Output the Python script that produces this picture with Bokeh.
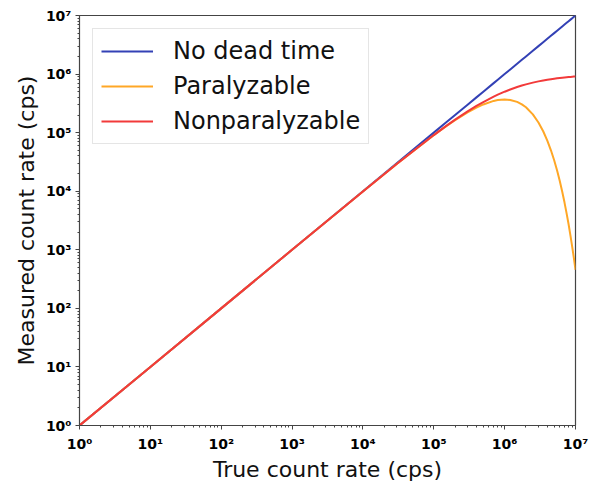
from bokeh.plotting import figure
from bokeh.models import FixedTicker, Legend, LegendItem, Range1d
from bokeh.embed import file_html
from bokeh.resources import INLINE

# True count rate (cps)
true_rate = [1, 10, 100, 1000, 1e4, 3e4, 1e5, 1.5e5, 2e5, 3e5, 4e5, 5e5, 7e5, 8e5,
             1e6, 1.2e6, 1.5e6, 1.75e6, 2e6, 2.5e6, 3e6, 3.5e6, 4e6, 4.5e6, 5e6,
             5.5e6, 6e6, 6.5e6, 7e6, 7.5e6, 8e6, 8.5e6, 9e6, 9.5e6, 1e7]
# Measured rates
no_dead_time = [1, 10, 100, 1000, 1e4, 3e4, 1e5, 1.5e5, 2e5, 3e5, 4e5, 5e5, 7e5, 8e5,
                1e6, 1.2e6, 1.5e6, 1.75e6, 2e6, 2.5e6, 3e6, 3.5e6, 4e6, 4.5e6, 5e6,
                5.5e6, 6e6, 6.5e6, 7e6, 7.5e6, 8e6, 8.5e6, 9e6, 9.5e6, 1e7]
paralyzable = [1, 10, 100, 1000, 9900, 29100, 90500, 129100, 164000, 222000,
               268100, 303000, 348000, 359500, 368000, 361400, 335000, 304100,
               271000, 205200, 149000, 105700, 73000, 50000, 33700, 22500, 14900,
               9770, 6400, 4150, 2700, 1730, 1110, 711, 454]
nonparalyzable = [1, 10, 100, 1000, 9900, 29100, 90900, 130400, 167000, 231000,
                  285700, 333000, 412000, 444400, 500000, 545500, 600000, 636400,
                  667000, 714300, 750000, 777800, 800000, 818200, 833000, 846200,
                  857000, 866700, 875000, 882400, 889000, 894700, 900000, 904800,
                  909000]

decades = [1, 10, 100, 1000, 10000, 100000, 1000000, 10000000]
decade_labels = ["10⁰", "10¹", "10²", "10³", "10⁴", "10⁵", "10⁶", "10⁷"]
series_names = ["No dead time", "Paralyzable", "Nonparalyzable"]
series_colors = ["#3341b5", "#ffa726", "#f23a3a"]

p = figure(width=591, height=484, x_axis_type="log", y_axis_type="log",
           output_backend="svg", toolbar_location=None,
           x_range=Range1d(1, 1e7), y_range=Range1d(1, 1e7),
           min_border_left=79, min_border_right=16, min_border_top=15,
           min_border_bottom=50)
p.background_fill_color = "white"
p.border_fill_color = "white"
p.outline_line_color = "#444444"
p.outline_line_width = 1.2
p.grid.visible = False

minor = []
for d in decades[:-1]:
    for m in range(2, 10):
        minor.append(d * m)
ticker = FixedTicker(ticks=decades, minor_ticks=minor)

for ax in (p.xaxis[0], p.yaxis[0]):
    ax.ticker = ticker
    ax.major_label_overrides = {d: lab for d, lab in zip(decades, decade_labels)}
    ax.major_label_text_font = "DejaVu Sans"
    ax.major_label_text_font_style = "bold"
    ax.major_label_text_font_size = "14px"
    ax.major_label_text_color = "black"
    ax.axis_label_text_font = "DejaVu Sans"
    ax.axis_label_text_font_style = "normal"
    ax.axis_label_text_font_size = "22px"
    ax.axis_label_text_color = "#111111"
    ax.axis_line_color = "#444444"
    ax.major_tick_line_color = "#444444"
    ax.minor_tick_line_color = "#444444"
    ax.major_tick_out = 4
    ax.major_tick_in = 0
    ax.minor_tick_out = 2
    ax.minor_tick_in = 0

p.xaxis.axis_label = "True count rate (cps)"
p.yaxis.axis_label = "Measured count rate (cps)"
p.xaxis.axis_label_standoff = 2
p.yaxis.axis_label_standoff = 4
p.yaxis.major_label_standoff = 4
p.xaxis.major_label_standoff = 6

renderers = []
for ys, c in zip([no_dead_time, paralyzable, nonparalyzable], series_colors):
    r = p.line(true_rate, ys, line_color=c, line_width=2)
    renderers.append(r)

legend = Legend(items=[LegendItem(label=n, renderers=[r]) for n, r in zip(series_names, renderers)],
                location="top_left")
legend.label_text_font = "DejaVu Sans"
legend.label_text_font_size = "24px"
legend.label_text_color = "#111111"
legend.glyph_width = 52
legend.glyph_height = 26
legend.label_standoff = 20
legend.spacing = 7
legend.padding = 8
legend.margin = 13
legend.border_line_color = "#cccccc"
legend.border_line_width = 1
legend.background_fill_alpha = 0.85
p.add_layout(legend)

open("out.html", "w").write(file_html(p, INLINE))
